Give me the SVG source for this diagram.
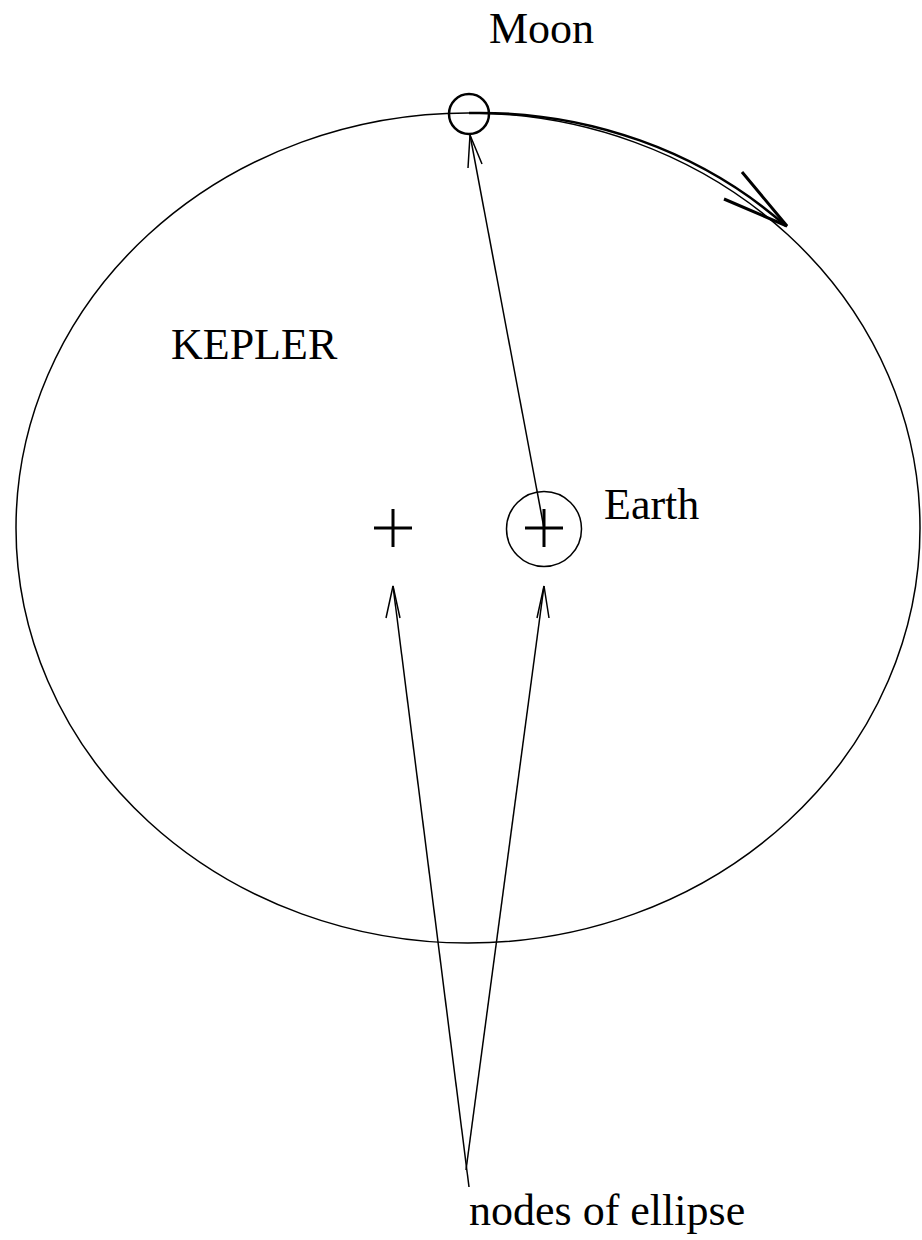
<svg xmlns="http://www.w3.org/2000/svg" width="922" height="1240" viewBox="0 0 922 1240">
<style>
text{font-family:"Liberation Serif","Times New Roman",serif;font-size:44px;fill:#000}
.thin{fill:none;stroke:#000;stroke-width:1.5}
.thick{fill:none;stroke:#000;stroke-width:3}
</style>
<rect width="922" height="1240" fill="#fff"/>
<g id="orbit">
<ellipse cx="468" cy="528" rx="452" ry="415" class="thin"/>
</g>
<g id="moon">
<circle cx="469" cy="114" r="20" fill="none" stroke="#000" stroke-width="2.5"/>
<text x="489" y="43">Moon</text>
</g>
<g id="earth">
<circle cx="544" cy="529" r="37.5" class="thin"/>
<path d="M525,528 H563 M544,509 V547" class="thick"/>
<text x="604" y="519">Earth</text>
</g>
<g id="focus">
<path d="M374,528 H412 M393,509 V547" class="thick"/>
</g>
<g id="kepler">
<text x="171" y="359">KEPLER</text>
</g>
<g id="nodes-label">
<text x="469" y="1225">nodes of ellipse</text>
</g>
<g id="connectors">
<path d="M469,113 A442,405 0 0 1 786,226" fill="none" stroke="#000" stroke-width="2.5"/>
<path d="M742,172 L787,226 L724,199" fill="none" stroke="#000" stroke-width="3" stroke-linejoin="miter"/>
<path d="M544,528 L470,135" class="thin"/>
<path d="M468,168 L470,135 L482,164" class="thin"/>
<path d="M469,1187 L393,586" class="thin"/>
<path d="M386,618 L393,586 L400,618" class="thin"/>
<path d="M466,1170 L544,586" class="thin"/>
<path d="M537,618 L544,586 L549,618" class="thin"/>
</g>
</svg>
